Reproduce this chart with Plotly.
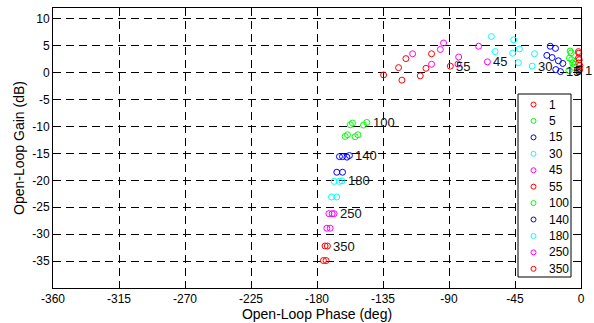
import plotly.graph_objects as go

# Series labels and colours (legend order)
series_names = ["1", "5", "15", "30", "45", "55", "100", "140", "180", "250", "350"]
series_colors = ["#FF0000", "#00FF00", "#0000FF", "#00FFFF", "#FF00FF",
                 "#FF0000", "#00FF00", "#0000FF", "#00FFFF", "#FF00FF", "#FF0000"]

# Open-loop phase (deg) and gain (dB) per series; last point is the labelled one
phase_1 = [-1.7, -1.5, -1.7, -1.2, -1.5, -0.8, -1.0, -1.2]
gain_1 = [3.9, 3.6, 2.7, 2.4, 1.8, 1.3, 0.6, 0.4]

phase_5 = [-7.4, -6.7, -7.9, -6.3, -5.6, -4.4, -5.0, -8.2]
gain_5 = [4.0, 3.65, 2.7, 2.4, 1.75, 1.5, 1.0, 0.4]

phase_15 = [-21.0, -17.4, -23.3, -19.7, -15.4, -12.4, -17.2, -14.0]
gain_15 = [4.9, 4.5, 3.2, 2.8, 2.2, 1.7, 0.56, 0.19]

phase_30 = [-61.1, -58.6, -45.9, -46.6, -42.0, -42.7, -31.7, -33.3]
gain_30 = [6.7, 3.9, 6.1, 3.6, 4.4, 1.85, 3.5, 1.2]

phase_45 = [-114.8, -101.9, -95.9, -93.7, -83.4, -83.9, -69.8, -63.8]
gain_45 = [3.5, 1.55, 4.3, 5.5, 2.9, 1.6, 4.9, 2.0]

phase_55 = [-134.6, -124.4, -122.1, -119.4, -109.6, -105.7, -101.9, -89.1]
gain_55 = [-0.43, 0.93, -1.4, 2.6, -0.6, 0.8, 3.5, 1.2]

phase_100 = [-160.8, -159.2, -154.0, -152.1, -157.3, -155.8, -148.3, -146.0]
gain_100 = [-11.85, -11.54, -11.9, -11.54, -9.69, -9.37, -9.74, -9.26]

phase_140 = [-166.5, -162.6, -164.7, -162.6, -159.6, -157.9]
gain_140 = [-18.5, -18.5, -15.6, -15.6, -15.7, -15.4]

phase_180 = [-170.1, -166.5, -168.3, -164.7, -163.0]
gain_180 = [-23.1, -23.1, -20.2, -20.2, -20.1]

phase_250 = [-173.3, -171.0, -171.9, -169.7, -168.3]
gain_250 = [-28.9, -28.9, -26.2, -26.2, -26.2]

phase_350 = [-175.6, -173.8, -174.5, -172.9]
gain_350 = [-34.9, -34.9, -32.2, -32.2]

phases = [phase_1, phase_5, phase_15, phase_30, phase_45, phase_55,
          phase_100, phase_140, phase_180, phase_250, phase_350]
gains = [gain_1, gain_5, gain_15, gain_30, gain_45, gain_55,
         gain_100, gain_140, gain_180, gain_250, gain_350]

x_ticks = [-360, -315, -270, -225, -180, -135, -90, -45, 0]
y_ticks = [-35, -30, -25, -20, -15, -10, -5, 0, 5, 10]

FONT = "Liberation Sans, Arial, sans-serif"

# Figure geometry (pixels)
W, H = 594, 323
ML, MR, MT, MB = 53, 13, 8, 35
PW, PH = W - ML - MR, H - MT - MB


def px_to_paper_x(px):
    return (px - ML) / PW


def px_to_paper_y(py):
    return (H - MB - py) / PH


fig = go.Figure()
annotations = []
shapes = []
for name, col, ph, gn in zip(series_names, series_colors, phases, gains):
    fig.add_trace(go.Scatter(
        x=ph, y=gn, mode="markers", name=name, showlegend=False,
        marker=dict(symbol="circle-open", size=6, color=col, line=dict(width=1, color=col)),
        cliponaxis=False,
    ))
    annotations.append(dict(
        x=ph[-1], y=gn[-1], xref="x", yref="y", text=name, showarrow=False,
        xanchor="left", yanchor="middle", xshift=4,
        font=dict(family=FONT, size=13, color="#111111"),
    ))

# Legend box (MATLAB-style), drawn as shapes + text
LEG_L, LEG_R, LEG_T, LEG_B = 518, 571, 94, 277
LEG_Y0, LEG_DY = 104.5, 16.43
shapes.append(dict(
    type="rect", xref="paper", yref="paper",
    x0=px_to_paper_x(LEG_L), x1=px_to_paper_x(LEG_R),
    y0=px_to_paper_y(LEG_B), y1=px_to_paper_y(LEG_T),
    line=dict(color="black", width=1), fillcolor="white", layer="above",
))
for i, (name, col) in enumerate(zip(series_names, series_colors)):
    yy = px_to_paper_y(LEG_Y0 + i * LEG_DY)
    shapes.append(dict(
        type="circle", xref="paper", yref="paper",
        xsizemode="pixel", ysizemode="pixel",
        xanchor=px_to_paper_x(533.5), yanchor=yy,
        x0=-2.5, x1=2.5, y0=-2.5, y1=2.5,
        line=dict(color=col, width=1), layer="above",
    ))
    annotations.append(dict(
        x=px_to_paper_x(546.5), y=yy, xref="paper", yref="paper", text=name,
        showarrow=False, xanchor="left", yanchor="middle",
        font=dict(family=FONT, size=12, color="black"),
    ))

axis_common = dict(
    showline=True, linecolor="black", linewidth=1, mirror="ticks",
    ticks="inside", ticklen=5, tickcolor="black",
    showgrid=True, gridcolor="black", gridwidth=1, griddash="8px,5px",
    zeroline=False,
    tickfont=dict(family=FONT, size=12, color="black"),
)

fig.update_xaxes(
    range=[-360, 0], tickmode="array", tickvals=x_ticks,
    ticktext=[str(v) for v in x_ticks],
    title=dict(text="Open-Loop Phase (deg)", font=dict(family=FONT, size=14, color="black"), standoff=0),
    **axis_common,
)
fig.update_yaxes(
    range=[-40, 12], tickmode="array", tickvals=y_ticks,
    ticktext=[str(v) for v in y_ticks],
    title=dict(text="Open-Loop Gain (dB)", font=dict(family=FONT, size=14, color="black"), standoff=4),
    **axis_common,
)

fig.update_layout(
    width=W, height=H,
    margin=dict(l=ML, r=MR, t=MT, b=MB, autoexpand=False),
    paper_bgcolor="white", plot_bgcolor="white",
    font=dict(family=FONT, size=12, color="black"),
    annotations=annotations,
    shapes=shapes,
    showlegend=False,
)

fig.write_html(
    "out.html",
    config={"displayModeBar": False},
    post_script="document.body.style.margin='0';document.body.style.padding='0';",
)
